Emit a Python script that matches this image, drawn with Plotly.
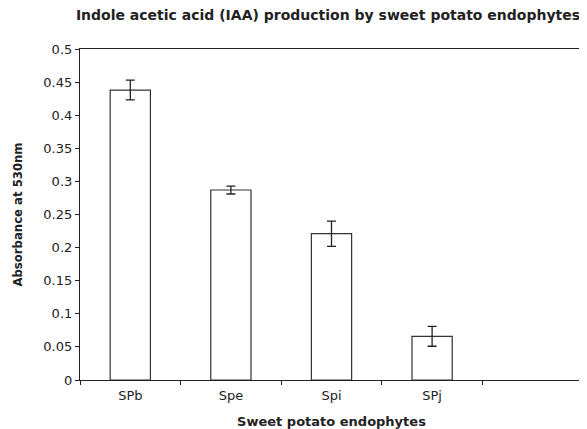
import plotly.graph_objects as go

categories = ["SPb", "Spe", "Spi", "SPj", " "]
values = [0.438, 0.287, 0.221, 0.066, None]
errors = [0.015, 0.006, 0.019, 0.015, None]
y_ticks = [0, 0.05, 0.1, 0.15, 0.2, 0.25, 0.3, 0.35, 0.4, 0.45, 0.5]
y_tick_labels = ["0", "0.05", "0.1", "0.15", "0.2", "0.25", "0.3", "0.35", "0.4", "0.45", "0.5"]

FONT = "DejaVu Sans, Arial, sans-serif"

fig = go.Figure()
fig.add_trace(go.Bar(
    x=categories,
    y=values,
    width=0.4,
    marker=dict(color="white", line=dict(color="#333333", width=1.2)),
    error_y=dict(type="data", array=errors, visible=True, color="#222222", thickness=1.3, width=4.5),
    showlegend=False,
))

fig.update_layout(
    width=579, height=421,
    margin=dict(l=72, r=4, t=41, b=49),
    plot_bgcolor="white", paper_bgcolor="white",
    font=dict(family=FONT, color="#222222", size=12),
    title=dict(text="<b>Indole acetic acid (IAA) production by sweet potato endophytes</b>",
               x=0.5527, xanchor="center", y=0.984, yanchor="middle",
               font=dict(size=14, family=FONT, color="#222222")),
    bargap=0.6,
)
fig.update_xaxes(
    type="category", categoryorder="array", categoryarray=categories,
    range=[-0.5, 4.5],
    showline=True, linecolor="#222222", linewidth=1.2, mirror=True,
    ticks="outside", tickson="boundaries", ticklen=4, tickcolor="#222222",
    showgrid=False, automargin=False, ticklabelstandoff=3,
    tickfont=dict(size=13, family=FONT),
    title=dict(text="<b>Sweet potato endophytes</b>", font=dict(size=13, family=FONT), standoff=16),
)
fig.update_yaxes(
    range=[0, 0.5],
    tickmode="array", tickvals=y_ticks, ticktext=y_tick_labels,
    showline=True, linecolor="#222222", linewidth=1.2, mirror=True,
    ticks="outside", ticklen=4, tickcolor="#222222",
    showgrid=False, zeroline=False, automargin=False,
    tickfont=dict(size=13, family=FONT),
    title=dict(text="<b>Absorbance at 530nm</b>", font=dict(size=11.7, family=FONT), standoff=18),
)

fig.write_html("out.html")
